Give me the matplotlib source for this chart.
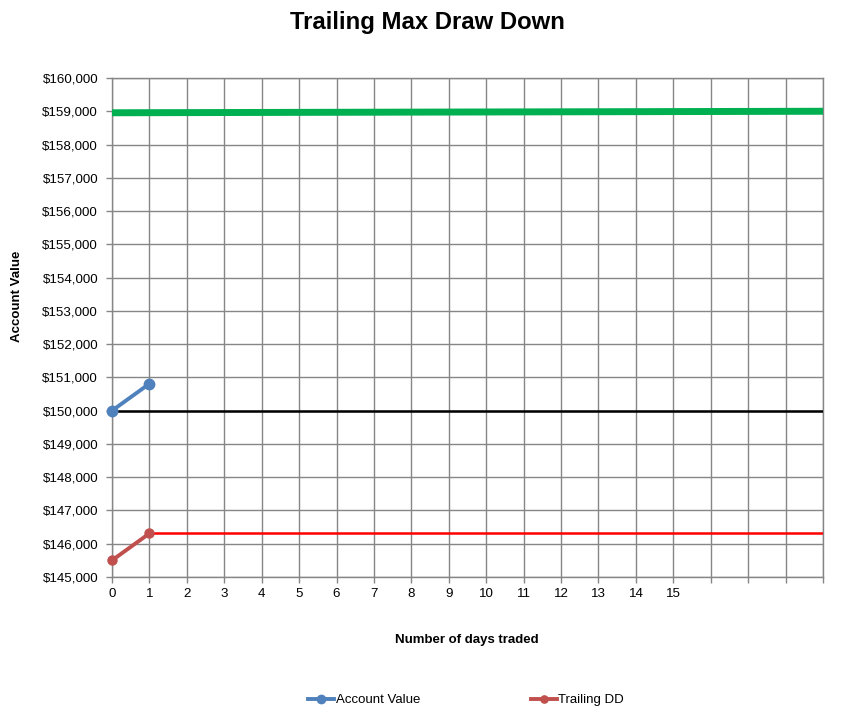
import matplotlib
matplotlib.use("Agg")
import matplotlib.pyplot as plt
from matplotlib.ticker import FuncFormatter, MultipleLocator

plt.rcParams['font.family'] = ['Liberation Sans', 'DejaVu Sans']

# Data
days = [0, 1]
account_value = [150000, 150810]
trailing_dd = [145500, 146310]
dd_level_x = [1, 19]
dd_level = [146330, 146330]
start_x = [0, 19]
start_value = [150000, 150000]
target_x = [0, 19]
target_value = [158955, 159000]
x_labels = [str(i) for i in range(16)]
n_slots = 19

fig = plt.figure(figsize=(8.53, 7.25), dpi=100)
ax = fig.add_axes([112/853, 1-577/725, (823-112)/853, (577-78)/725])

ax.plot(target_x, target_value, color='#00B050', lw=5, solid_capstyle='butt', zorder=3)
ax.plot(start_x, start_value, color='black', lw=1.8, zorder=3)
ax.plot(dd_level_x, dd_level, color='#FF0000', lw=1.8, zorder=3)
ax.plot(days, account_value, color='#4F81BD', lw=2.8, marker='o', ms=7.5,
        label='Account Value', zorder=4, clip_on=False)
ax.plot(days, trailing_dd, color='#C0504D', lw=2.8, marker='o', ms=6.5,
        label='Trailing DD', zorder=4, clip_on=False)

ax.set_xlim(0, n_slots)
ax.set_ylim(145000, 160000)
ax.set_xticks(range(n_slots + 1))
ax.set_xticklabels(x_labels + [''] * (n_slots + 1 - len(x_labels)))
ax.yaxis.set_major_locator(MultipleLocator(1000))
ax.yaxis.set_major_formatter(FuncFormatter(lambda v, p: f"${v:,.0f}"))

ax.grid(True, color='#868686', lw=1)
ax.set_axisbelow(True)
for s in ax.spines.values():
    s.set_color('#868686')
    s.set_linewidth(1)
ax.tick_params(axis='both', colors='#868686', labelcolor='black', labelsize=9.6,
               length=4, width=1, direction='out')
ax.tick_params(axis='y', pad=6)
ax.tick_params(axis='x', pad=4)

fig.text(427.5/853, 1-23/725, 'Trailing Max Draw Down', ha='center', va='center',
         fontsize=17.2, fontweight='bold')
fig.text(17/853, 1-296/725, 'Account Value', rotation=90, ha='center', va='center',
         fontsize=9.5, fontweight='bold')
fig.text(467/853, 1-640/725, 'Number of days traded', ha='center', va='center',
         fontsize=9.5, fontweight='bold')

fig.legend(loc='center', bbox_to_anchor=(466/853, 1-700/725), ncol=2, frameon=False,
           fontsize=9.5, columnspacing=8.4, handlelength=2.0, handletextpad=0.1,
           markerscale=0.8)

fig.savefig('out.png', dpi=100)
